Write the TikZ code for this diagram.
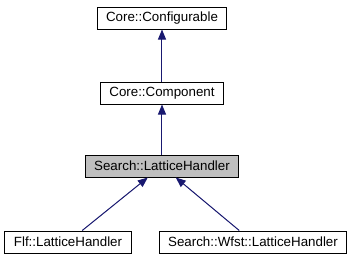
\documentclass[tikz,border=0pt]{standalone}
\usepackage{fontspec}
\setmainfont{Liberation Sans}
\usetikzlibrary{arrows.meta}
\definecolor{midnightblue}{rgb}{0.1, 0.1, 0.44}
\definecolor{boxgray}{rgb}{0.75, 0.75, 0.75}

\begin{document}
\begin{tikzpicture}[x=0.75pt,y=-0.75pt]
	\tikzstyle{cls} = [rectangle,draw=black,fill=white,line width=0.75pt,minimum height=16.5pt,inner xsep=6.75pt,inner ysep=2pt,font=\fontsize{10}{12}\selectfont]
	\tikzstyle{cls2} = [cls,fill=boxgray]
	\tikzstyle{inherit} = [-{Triangle[length=7.5pt,width=6pt]},draw=midnightblue,fill=midnightblue,line width=0.75pt]
	\useasboundingbox (0,0) rectangle (355,261);
	\node[cls] (conf) at (162,18) {Core::Configurable};
	\node[cls] (comp) at (162,93) {Core::Component};
	\node[cls2] (lat) at (162,166) {Search::LatticeHandler};
	\node[cls] (flf) at (68,242) {Flf::LatticeHandler};
	\node[cls] (wfst) at (253,242) {Search::Wfst::LatticeHandler};

	\draw[inherit] (comp)--(conf);
	\draw[inherit] (lat)--(comp);
	\draw[inherit] (flf)--(lat);
	\draw[inherit] (wfst)--(lat);
\end{tikzpicture}
\end{document}
